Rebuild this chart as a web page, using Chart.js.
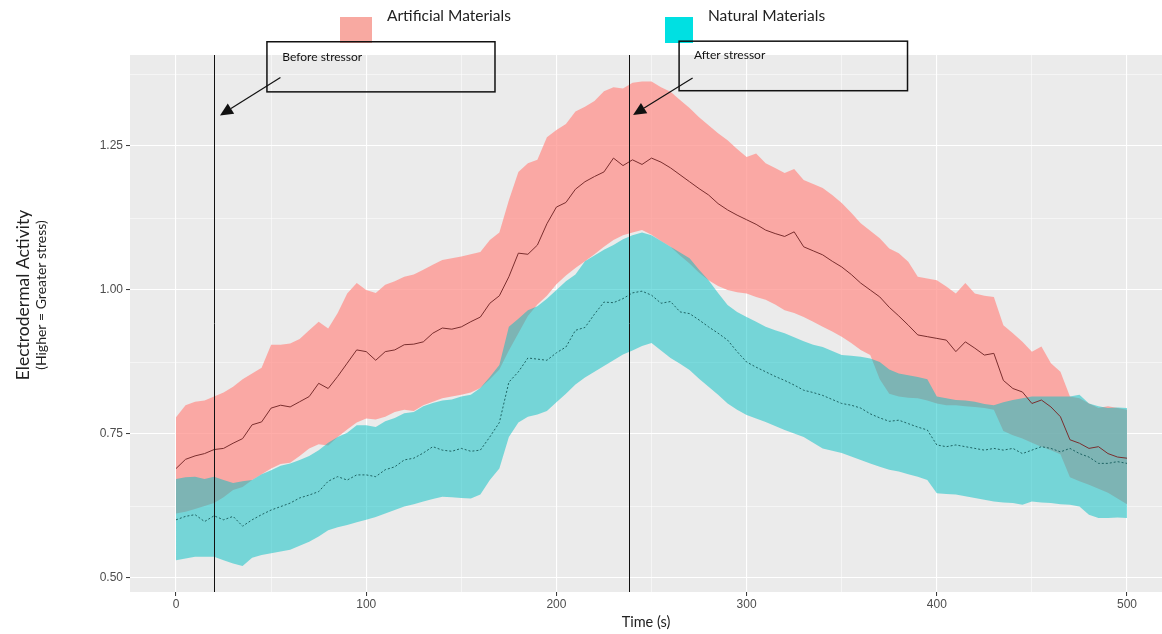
<!DOCTYPE html>
<html>
<head>
<meta charset="utf-8">
<script src="https://cdn.jsdelivr.net/npm/chart.js@4.4.1/dist/chart.umd.min.js"></script>
<style>
  html, body { margin: 0; padding: 0; background: #fff; }
</style>
</head>
<body>
<canvas id="edaChart" width="1162" height="634"></canvas>
<script>
// time (s), one reading every 5 s
const times = [
  0, 5, 10, 15, 20, 25, 30, 35, 40, 45,
  50, 55, 60, 65, 70, 75, 80, 85, 90, 95,
  100, 105, 110, 115, 120, 125, 130, 135, 140, 145,
  150, 155, 160, 165, 170, 175, 180, 185, 190, 195,
  200, 205, 210, 215, 220, 225, 230, 235, 240, 245,
  250, 255, 260, 265, 270, 275, 280, 285, 290, 295,
  300, 305, 310, 315, 320, 325, 330, 335, 340, 345,
  350, 355, 360, 365, 370, 375, 380, 385, 390, 395,
  400, 405, 410, 415, 420, 425, 430, 435, 440, 445,
  450, 455, 460, 465, 470, 475, 480, 485, 490, 495,
  500
];

// Artificial materials: mean and band
const artMean = [
  0.690, 0.706, 0.712, 0.716, 0.723, 0.725, 0.734, 0.742, 0.766, 0.771,
  0.795, 0.800, 0.797, 0.806, 0.815, 0.838, 0.829, 0.850, 0.873, 0.896,
  0.893, 0.878, 0.893, 0.896, 0.905, 0.906, 0.910, 0.925, 0.934, 0.932,
  0.936, 0.945, 0.953, 0.977, 0.990, 1.023, 1.064, 1.062, 1.078, 1.115,
  1.144, 1.152, 1.175, 1.188, 1.197, 1.205, 1.229, 1.216, 1.226, 1.218,
  1.229, 1.222, 1.212, 1.200, 1.188, 1.176, 1.165, 1.150, 1.139, 1.130,
  1.122, 1.114, 1.104, 1.098, 1.093, 1.101, 1.075, 1.068, 1.061, 1.050,
  1.040, 1.027, 1.012, 1.000, 0.988, 0.970, 0.955, 0.939, 0.922, 0.919,
  0.916, 0.913, 0.893, 0.910, 0.899, 0.887, 0.890, 0.843, 0.829, 0.823,
  0.803, 0.809, 0.797, 0.780, 0.740, 0.734, 0.725, 0.728, 0.716, 0.710,
  0.708
];
const artHi = [
  0.779, 0.800, 0.806, 0.808, 0.815, 0.822, 0.832, 0.845, 0.855, 0.865,
  0.905, 0.905, 0.907, 0.915, 0.930, 0.945, 0.933, 0.960, 0.994, 1.012,
  1.000, 0.995, 1.009, 1.015, 1.023, 1.027, 1.035, 1.044, 1.052, 1.055,
  1.058, 1.062, 1.066, 1.087, 1.100, 1.156, 1.205, 1.220, 1.226, 1.265,
  1.278, 1.288, 1.310, 1.318, 1.328, 1.345, 1.352, 1.350, 1.360, 1.362,
  1.362, 1.352, 1.344, 1.330, 1.316, 1.300, 1.286, 1.272, 1.260, 1.245,
  1.231, 1.237, 1.220, 1.212, 1.203, 1.210, 1.191, 1.184, 1.177, 1.165,
  1.151, 1.134, 1.116, 1.103, 1.090, 1.072, 1.064, 1.049, 1.023, 1.020,
  1.017, 1.006, 0.994, 1.012, 0.994, 0.990, 0.988, 0.939, 0.925, 0.910,
  0.893, 0.902, 0.873, 0.858, 0.815, 0.812, 0.803, 0.795, 0.798, 0.795,
  0.792
];
const artLo = [
  0.612, 0.615, 0.620, 0.625, 0.630, 0.640, 0.653, 0.658, 0.670, 0.680,
  0.690, 0.698, 0.700, 0.712, 0.725, 0.732, 0.730, 0.745, 0.758, 0.770,
  0.777, 0.775, 0.780, 0.788, 0.792, 0.790, 0.800, 0.806, 0.812, 0.815,
  0.818, 0.822, 0.830, 0.845, 0.862, 0.895, 0.925, 0.955, 0.975, 0.990,
  1.010, 1.025, 1.038, 1.050, 1.062, 1.075, 1.087, 1.095, 1.100, 1.104,
  1.096, 1.085, 1.075, 1.060, 1.046, 1.030, 1.017, 1.007, 1.000, 0.996,
  0.994, 0.988, 0.983, 0.975, 0.965, 0.960, 0.953, 0.945, 0.936, 0.928,
  0.919, 0.908, 0.896, 0.887, 0.845, 0.820, 0.815, 0.813, 0.812, 0.808,
  0.803, 0.800, 0.800, 0.798, 0.797, 0.795, 0.792, 0.755, 0.748, 0.742,
  0.735, 0.728, 0.722, 0.715, 0.675, 0.668, 0.662, 0.655, 0.648, 0.638,
  0.628
];

// Natural materials: mean and band
const natMean = [
  0.601, 0.607, 0.610, 0.598, 0.608, 0.601, 0.607, 0.590, 0.601, 0.610,
  0.618, 0.624, 0.630, 0.639, 0.644, 0.650, 0.668, 0.676, 0.670, 0.679,
  0.679, 0.676, 0.688, 0.693, 0.705, 0.708, 0.717, 0.728, 0.722, 0.720,
  0.725, 0.720, 0.722, 0.745, 0.770, 0.840, 0.858, 0.882, 0.880, 0.878,
  0.891, 0.901, 0.930, 0.935, 0.958, 0.979, 0.978, 0.985, 0.995, 0.998,
  0.991, 0.977, 0.980, 0.962, 0.959, 0.948, 0.936, 0.925, 0.913, 0.893,
  0.875, 0.866, 0.858, 0.850, 0.843, 0.835, 0.826, 0.822, 0.817, 0.810,
  0.803, 0.800, 0.795, 0.785, 0.778, 0.772, 0.774, 0.768, 0.762, 0.757,
  0.731, 0.728, 0.731, 0.728, 0.725, 0.722, 0.725, 0.722, 0.725, 0.716,
  0.722, 0.728, 0.725, 0.719, 0.725, 0.716, 0.710, 0.699, 0.699, 0.702,
  0.699
];
const natHi = [
  0.672, 0.675, 0.676, 0.672, 0.676, 0.670, 0.665, 0.668, 0.670, 0.680,
  0.687, 0.695, 0.699, 0.705, 0.712, 0.722, 0.735, 0.745, 0.752, 0.765,
  0.765, 0.762, 0.772, 0.778, 0.786, 0.788, 0.798, 0.804, 0.808, 0.810,
  0.815, 0.818, 0.830, 0.849, 0.870, 0.936, 0.950, 0.965, 0.972, 0.985,
  1.000, 1.015, 1.027, 1.050, 1.060, 1.070, 1.078, 1.088, 1.095, 1.100,
  1.095, 1.085, 1.075, 1.065, 1.055, 1.035, 1.017, 0.995, 0.974, 0.962,
  0.953, 0.945, 0.936, 0.930, 0.925, 0.918, 0.911, 0.905, 0.901, 0.894,
  0.887, 0.886, 0.884, 0.881, 0.875, 0.862, 0.855, 0.852, 0.849, 0.845,
  0.815, 0.812, 0.809, 0.808, 0.806, 0.802, 0.800, 0.805, 0.809, 0.812,
  0.815, 0.815, 0.815, 0.815, 0.815, 0.818, 0.803, 0.798, 0.795, 0.796,
  0.795
];
const natLo = [
  0.531, 0.534, 0.537, 0.537, 0.537, 0.531, 0.525, 0.521, 0.535, 0.540,
  0.543, 0.546, 0.549, 0.556, 0.563, 0.572, 0.583, 0.588, 0.592, 0.597,
  0.601, 0.606, 0.612, 0.618, 0.624, 0.628, 0.633, 0.637, 0.641, 0.640,
  0.639, 0.638, 0.645, 0.670, 0.690, 0.745, 0.770, 0.780, 0.784, 0.790,
  0.805, 0.820, 0.836, 0.848, 0.858, 0.868, 0.878, 0.888, 0.895, 0.903,
  0.908, 0.895, 0.882, 0.872, 0.861, 0.846, 0.832, 0.818, 0.803, 0.792,
  0.783, 0.777, 0.771, 0.764, 0.757, 0.751, 0.745, 0.735, 0.725, 0.721,
  0.717, 0.711, 0.705, 0.699, 0.693, 0.688, 0.685, 0.680, 0.676, 0.670,
  0.647, 0.646, 0.645, 0.642, 0.639, 0.636, 0.633, 0.631, 0.630, 0.627,
  0.633, 0.631, 0.630, 0.628, 0.627, 0.624, 0.610, 0.604, 0.604, 0.605,
  0.604
];

const xTicks = [0, 50, 100, 150, 200, 250, 300, 350, 400, 450, 500];
const yTicks = [0.5, 0.625, 0.75, 0.875, 1.0, 1.125, 1.25, 1.375];

const stressTimes = [20, 238];
const legendNames = ['Artificial Materials', 'Natural Materials'];

// callout boxes, in data units (time, EDA)
const notes = [
  { text: 'Before stressor', x0: 47.8, x1: 167.7, y0: 1.431, y1: 1.344,
    tx: 55.9, ty: 1.404, fx: 54.9, fy: 1.369, ax: 23.1, ay: 1.303 },
  { text: 'After stressor', x0: 264.5, x1: 384.6, y0: 1.432, y1: 1.346,
    tx: 272.3, ty: 1.408, fx: 271.6, fy: 1.368, ax: 240.3, ay: 1.304 }
];

const pink = 'rgba(255, 146, 140, 0.75)';
const teal = 'rgba(0, 191, 196, 0.5)';

function pts(arr) {
  return times.map((t, i) => ({ x: t, y: arr[i] }));
}

function isMajor(v, step) {
  return Math.abs(v / step - Math.round(v / step)) < 1e-9;
}

const panelBg = {
  id: 'panelBg',
  beforeDraw(chart) {
    const { ctx, chartArea: a } = chart;
    ctx.save();
    ctx.fillStyle = '#EBEBEB';
    ctx.fillRect(a.left, a.top, a.right - a.left, a.bottom - a.top);
    ctx.restore();
  }
};

function drawArrow(ctx, x1, y1, x2, y2) {
  const ang = Math.atan2(y2 - y1, x2 - x1);
  const len = 13, half = 6;
  const bx = x2 - len * Math.cos(ang), by = y2 - len * Math.sin(ang);
  ctx.beginPath();
  ctx.moveTo(x1, y1);
  ctx.lineTo(bx, by);
  ctx.stroke();
  ctx.beginPath();
  ctx.moveTo(x2, y2);
  ctx.lineTo(bx + half * Math.sin(ang), by - half * Math.cos(ang));
  ctx.lineTo(bx - half * Math.sin(ang), by + half * Math.cos(ang));
  ctx.closePath();
  ctx.fill();
}

const extras = {
  id: 'extras',
  afterDraw(chart) {
    const { ctx, chartArea: a } = chart;
    const xs = chart.scales.x, ys = chart.scales.y;
    ctx.save();

    // stressor lines
    ctx.strokeStyle = '#111';
    ctx.lineWidth = 1;
    stressTimes.forEach(t => {
      const px = Math.round(xs.getPixelForValue(t)) + 0.5;
      ctx.beginPath();
      ctx.moveTo(px, a.top);
      ctx.lineTo(px, a.bottom);
      ctx.stroke();
    });

    // legend keys
    ctx.fillStyle = '#F8A9A1';
    ctx.fillRect(340, 17, 32, 26);
    ctx.fillStyle = '#00E0E2';
    ctx.fillRect(665, 17, 28, 26);
    ctx.fillStyle = '#222';
    ctx.font = '15.5px Lato';
    ctx.textBaseline = 'middle';
    ctx.textAlign = 'left';
    ctx.fillText(legendNames[0], 387, 16);
    ctx.fillText(legendNames[1], 708, 16);

    // callouts
    notes.forEach(n => {
      const l = xs.getPixelForValue(n.x0), r = xs.getPixelForValue(n.x1);
      const t = ys.getPixelForValue(n.y0), b = ys.getPixelForValue(n.y1);
      ctx.strokeStyle = '#111';
      ctx.lineWidth = 1.5;
      ctx.strokeRect(l, t, r - l, b - t);
      ctx.fillStyle = '#111';
      ctx.font = '12px Lato';
      ctx.fillText(n.text, xs.getPixelForValue(n.tx), ys.getPixelForValue(n.ty));
      ctx.lineWidth = 1.2;
      drawArrow(ctx, xs.getPixelForValue(n.fx), ys.getPixelForValue(n.fy),
        xs.getPixelForValue(n.ax), ys.getPixelForValue(n.ay));
    });

    // y title, two lines
    ctx.fillStyle = '#222';
    ctx.textAlign = 'center';
    ctx.translate(23, 295);
    ctx.rotate(-Math.PI / 2);
    ctx.font = '17.5px Lato';
    ctx.fillText('Electrodermal Activity', 0, 0);
    ctx.font = '14px Lato';
    ctx.fillText('(Higher = Greater stress)', 0, 18);
    ctx.restore();
  }
};

function makeChart() {
  const config = {
    type: 'line',
    data: {
      datasets: [
        { label: 'artHi', data: pts(artHi), fill: '+1', backgroundColor: pink,
          borderWidth: 0, pointRadius: 0, order: 6 },
        { label: 'artLo', data: pts(artLo), fill: false,
          borderWidth: 0, pointRadius: 0, order: 5 },
        { label: 'natHi', data: pts(natHi), fill: '+1', backgroundColor: teal,
          borderWidth: 0, pointRadius: 0, order: 4 },
        { label: 'natLo', data: pts(natLo), fill: false,
          borderWidth: 0, pointRadius: 0, order: 3 },
        { label: legendNames[0], data: pts(artMean), fill: false,
          borderColor: '#7A2E2E', borderWidth: 1, pointRadius: 0, order: 2 },
        { label: legendNames[1], data: pts(natMean), fill: false,
          borderColor: '#1E6464', borderWidth: 1, borderDash: [2, 2], pointRadius: 0, order: 1 }
      ]
    },
    options: {
      responsive: false,
      animation: false,
      events: [],
      layout: { padding: { top: 55, right: 0, bottom: 0, left: 0 } },
      plugins: {
        legend: { display: false },
        tooltip: { enabled: false }
      },
      elements: { line: { tension: 0 } },
      scales: {
        x: {
          type: 'linear',
          min: -24.2,
          max: 518.4,
          afterBuildTicks(scale) { scale.ticks = xTicks.map(v => ({ value: v })); },
          ticks: {
            autoSkip: false,
            maxRotation: 0,
            padding: 1,
            color: '#4D4D4D',
            font: { family: 'Liberation Sans', size: 12 },
            callback: v => (isMajor(v, 100) ? String(v) : '')
          },
          grid: {
            color: '#FFFFFF',
            lineWidth: c => (isMajor(c.tick.value, 100) ? 1.1 : 0.5),
            tickColor: c => (isMajor(c.tick.value, 100) ? '#333' : 'rgba(0,0,0,0)'),
            tickLength: 4,
            tickWidth: 1
          },
          border: { display: false },
          title: {
            display: true,
            text: 'Time (s)',
            color: '#222',
            font: { family: 'Lato', size: 14.5 },
            padding: { top: 0, bottom: 3 }
          },
          afterFit(scale) { scale.height = 42; }
        },
        y: {
          type: 'linear',
          min: 0.4757,
          max: 1.408,
          afterBuildTicks(scale) { scale.ticks = yTicks.map(v => ({ value: v })); },
          ticks: {
            autoSkip: false,
            padding: 3,
            color: '#4D4D4D',
            font: { family: 'Liberation Sans', size: 12 },
            callback: v => (isMajor(v, 0.25) ? v.toFixed(2) : '')
          },
          grid: {
            color: '#FFFFFF',
            lineWidth: c => (isMajor(c.tick.value, 0.25) ? 1.1 : 0.5),
            tickColor: c => (isMajor(c.tick.value, 0.25) ? '#333' : 'rgba(0,0,0,0)'),
            tickLength: 4,
            tickWidth: 1
          },
          border: { display: false },
          afterFit(scale) { scale.width = 130; }
        }
      }
    },
    plugins: [panelBg, extras]
  };
  return new Chart(document.getElementById('edaChart'), config);
}

Promise.all([
  document.fonts.load('14px Lato'),
  document.fonts.load('12px "Liberation Sans"')
]).then(makeChart, makeChart);
</script>
</body>
</html>
